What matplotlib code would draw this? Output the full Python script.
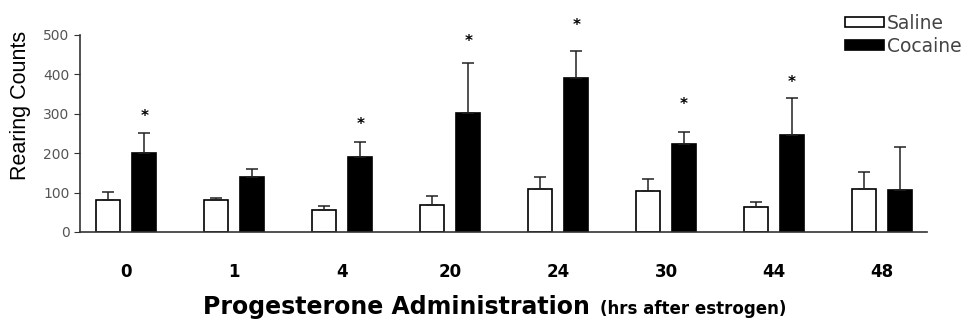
import matplotlib.pyplot as plt
import numpy as np

# data
hours = ['0', '1', '4', '20', '24', '30', '44', '48']
saline = [81, 81, 55, 68, 110, 105, 63, 110]
saline_err = [21, 5, 12, 23, 29, 30, 12, 42]
cocaine = [200, 140, 190, 303, 391, 224, 245, 107]
cocaine_err = [50, 20, 39, 125, 68, 31, 95, 109]
signif = [True, False, True, True, True, True, True, False]
star_y = [293, 0, 274, 483, 525, 324, 379, 0]

plt.rcParams['font.family'] = ['DejaVu Sans']

fig = plt.figure(figsize=(9.72, 3.24), dpi=100)
ax = fig.add_axes([0.0823, 0.284, 0.8717, 0.608])

x = np.arange(len(hours))
w = 0.222
off = 0.167
ekw = dict(elinewidth=1.1, capsize=4, capthick=1.1, ecolor='#222222')
ax.bar(x - off, saline, w, color='white', edgecolor='black', linewidth=1.2,
       yerr=[np.zeros(len(x)), saline_err], error_kw=ekw)
ax.bar(x + off, cocaine, w, color='black', edgecolor='black', linewidth=1.2,
       yerr=[np.zeros(len(x)), cocaine_err], error_kw=ekw)

for i in range(len(x)):
    if signif[i]:
        ax.text(x[i] + off, star_y[i], '*', ha='center', va='center', fontsize=11, fontweight='bold')

ax.set_xlim(-0.43, 7.42)
ax.set_ylim(0, 500)
ax.set_yticks([0, 100, 200, 300, 400, 500])
ax.tick_params(axis='y', labelsize=10, colors='#333333', labelcolor='#555555', length=4, pad=3.5, direction='out')
ax.set_xticks(x)
ax.set_xticklabels(hours, fontsize=12, fontweight='bold')
ax.tick_params(axis='x', length=0, pad=22)
for s in ['top', 'right']:
    ax.spines[s].set_visible(False)
ax.spines['left'].set_color('#333333')
ax.spines['bottom'].set_color('#333333')
ax.spines['left'].set_linewidth(1.2)
ax.spines['bottom'].set_linewidth(1.2)

ax.set_ylabel('Rearing Counts', fontsize=15.5, family=['Liberation Sans', 'DejaVu Sans'])
ax.yaxis.set_label_coords(-0.058, 0.64)

fig.text(590 / 972, 0.031, 'Progesterone Administration', fontsize=17, fontweight='bold',
         ha='right', va='baseline')
fig.text(600 / 972, 0.031, '(hrs after estrogen)', fontsize=12, fontweight='bold',
         ha='left', va='baseline')

leg = fig.legend(['Saline', 'Cocaine'], loc='upper left', bbox_to_anchor=(845 / 972, 1 - 14 / 324),
                 frameon=False, borderpad=0, borderaxespad=0,
                 fontsize=13.5, handlelength=2.1, handleheight=0.42, handletextpad=0.15, labelspacing=0.2)
for t in leg.get_texts():
    t.set_color('#444444')

fig.savefig('out.png', dpi=100)
